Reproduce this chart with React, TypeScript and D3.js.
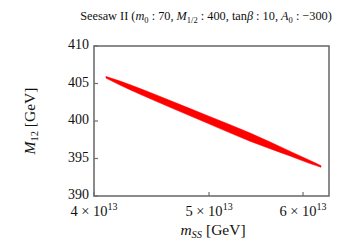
import * as d3 from "d3";

// m_SS in units of 10^13 GeV, with the upper / lower edge of the red band (M_12 in GeV)
const mSS = [4.094, 4.207, 4.374, 4.636, 5.01, 5.414, 5.853, 6.082, 6.213];
const m12Upper = [405.93, 405.32, 404.32, 402.73, 400.57, 398.4, 395.95, 394.73, 394.03];
const m12Lower = [405.72, 404.79, 403.57, 401.83, 399.56, 397.31, 395.33, 394.33, 393.84];

const xTicks = [4, 5, 6];
const yTicks = [390, 395, 400, 405, 410];

const W = 363;
const H = 247;
const margin = { left: 94, right: 34, top: 46, bottom: 51 };
const serif = "'Liberation Serif', 'DejaVu Serif', serif";
const frameColor = "#6e6e6e";

export default function App() {
  const x = d3
    .scaleLog()
    .domain([4, 6.31])
    .range([margin.left, W - margin.right]);
  const y = d3
    .scaleLinear()
    .domain([390, 410])
    .range([H - margin.bottom, margin.top]);

  const band = mSS.map((m, i) => ({ m, hi: m12Upper[i], lo: m12Lower[i] }));
  const area = d3
    .area<{ m: number; hi: number; lo: number }>()
    .x((d) => x(d.m))
    .y0((d) => y(d.lo))
    .y1((d) => y(d.hi))
    .curve(d3.curveMonotoneX);

  const x0 = margin.left;
  const x1 = W - margin.right;
  const y0 = H - margin.bottom;
  const y1 = margin.top;

  return (
    <svg
      width={W}
      height={H}
      style={{ position: "absolute", left: 0, top: 0, background: "#fff" }}
      fontFamily={serif}
    >
      {/* title */}
      <text x={206} y={20} textAnchor="middle" fontSize={12.3} fill="#111">
        Seesaw II (<tspan fontStyle="italic">m</tspan>
        <tspan dy={2.5} fontSize={8.5}>0</tspan>
        <tspan dy={-2.5}> : 70, </tspan>
        <tspan fontStyle="italic">M</tspan>
        <tspan dy={2.5} fontSize={8.5}>1/2</tspan>
        <tspan dy={-2.5}> : 400, tan</tspan>
        <tspan fontStyle="italic">β</tspan>
        <tspan> : 10, </tspan>
        <tspan fontStyle="italic">A</tspan>
        <tspan dy={2.5} fontSize={8.5}>0</tspan>
        <tspan dy={-2.5}> : −300)</tspan>
      </text>

      {/* band */}
      <path d={area(band) ?? ""} fill="#ff0000" stroke="#ff0000" strokeWidth={0.6} />

      {/* frame */}
      <rect
        x={x0}
        y={y1}
        width={x1 - x0}
        height={y0 - y1}
        fill="none"
        stroke={frameColor}
        strokeWidth={1.6}
      />

      {/* y ticks */}
      {yTicks.map((t) => (
        <g key={t}>
          <line x1={x0} x2={x0 + 4} y1={y(t)} y2={y(t)} stroke={frameColor} strokeWidth={1.2} />
          <text
            x={x0 - 5}
            y={y(t)}
            textAnchor="end"
            dominantBaseline="middle"
            fontSize={14}
            fill="#111"
          >
            {t}
          </text>
        </g>
      ))}

      {/* x ticks */}
      {xTicks.map((t) => (
        <g key={t}>
          <line x1={x(t)} x2={x(t)} y1={y0} y2={y0 - 4} stroke={frameColor} strokeWidth={1.2} />
          <text x={x(t)} y={y0 + 20} textAnchor="middle" fontSize={14.5} fill="#111">
            {t} × 10
            <tspan dy={-6} fontSize={10}>13</tspan>
          </text>
        </g>
      ))}

      {/* axis titles */}
      <text x={213} y={235} textAnchor="middle" fontSize={15.5} fill="#111">
        <tspan fontStyle="italic">m</tspan>
        <tspan dy={3} fontSize={10.5} fontStyle="italic">SS</tspan>
        <tspan dy={-3}> [GeV]</tspan>
      </text>
      <text
        transform={`translate(35, ${(y0 + y1) / 2}) rotate(-90)`}
        textAnchor="middle"
        fontSize={15.5}
        fill="#111"
      >
        <tspan fontStyle="italic">M</tspan>
        <tspan dy={3} fontSize={10.5}>12</tspan>
        <tspan dy={-3}> [GeV]</tspan>
      </text>
    </svg>
  );
}
